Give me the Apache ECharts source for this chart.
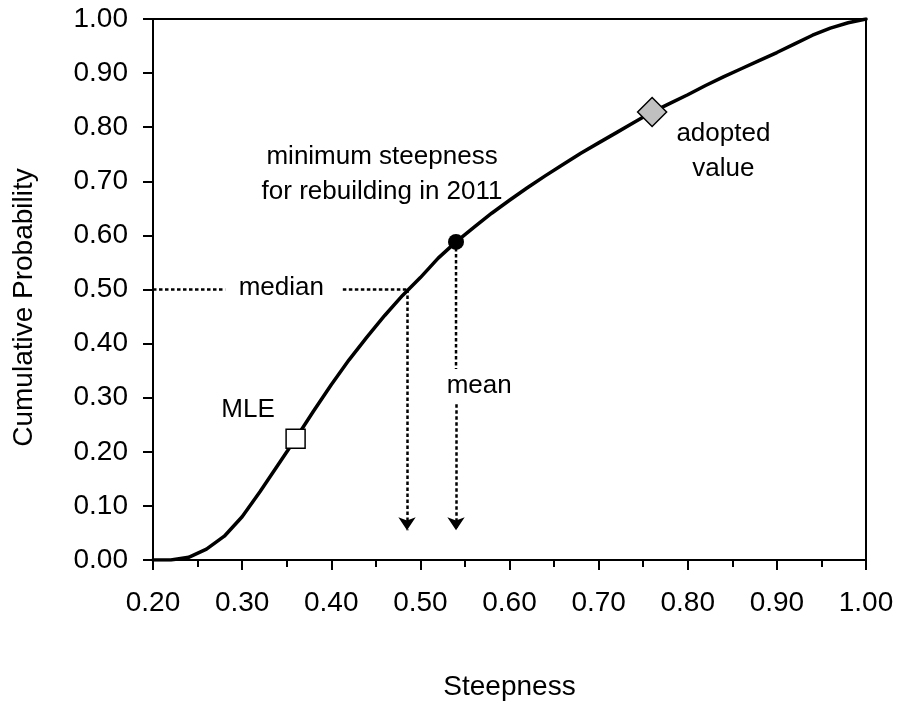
<!DOCTYPE html>
<html>
<head>
<meta charset="utf-8">
<script src="https://cdn.jsdelivr.net/npm/echarts@6/dist/echarts.min.js"></script>
<style>html,body{margin:0;padding:0;background:#fff;}#chart{width:899px;height:706px;}</style>
</head>
<body>
<div id="chart"></div>
<script>
// ---- data ----
const steepness = [0.20,0.22,0.24,0.26,0.28,0.30,0.32,0.34,0.36,0.38,0.40,0.42,0.44,0.46,0.48,0.50,0.52,0.54,0.56,0.58,0.60,0.62,0.64,0.66,0.68,0.70,0.72,0.74,0.76,0.78,0.80,0.82,0.84,0.86,0.88,0.90,0.92,0.94,0.96,0.98,1.00];
const cumProb   = [0.000,0.000,0.005,0.020,0.044,0.080,0.126,0.175,0.224,0.275,0.324,0.370,0.412,0.452,0.489,0.522,0.558,0.588,0.615,0.641,0.665,0.688,0.710,0.731,0.752,0.771,0.790,0.809,0.828,0.844,0.860,0.877,0.893,0.908,0.923,0.938,0.954,0.970,0.983,0.993,1.000];
const mlePoint = [0.36, 0.224];
const meanPoint = [0.54, 0.588];
const medianPoint = [0.485, 0.50];
const adoptedPoint = [0.76, 0.828];
const arrowTipY = 0.055;
const medianGap = [0.281, 0.413];   // horizontal gap around the "median" label
const meanGap = [0.353, 0.288];     // vertical gap around the "mean" label
const xTicks = [0.20,0.30,0.40,0.50,0.60,0.70,0.80,0.90,1.00];
const yTicks = [0.00,0.10,0.20,0.30,0.40,0.50,0.60,0.70,0.80,0.90,1.00];
const annotations = [
  {name: 'minimum steepness\nfor rebuilding in 2011', value: [0.457, 0.712]},
  {name: 'adopted\nvalue', value: [0.84, 0.755]},
  {name: 'median', value: [0.344, 0.504]},
  {name: 'MLE', value: [0.3066, 0.277]},
  {name: 'mean', value: [0.566, 0.322]}
];

const FONT = '"Liberation Sans", Arial, sans-serif';
const dotted = {color: '#000', width: 2.5, type: [3.5, 2.5], opacity: 1};

const chart = echarts.init(document.getElementById('chart'), null, {renderer: 'canvas'});
chart.setOption({
  animation: false,
  backgroundColor: '#fff',
  grid: {left: 153, right: 33, top: 19, bottom: 141, show: true, borderColor: '#000', borderWidth: 2, backgroundColor: 'transparent'},
  xAxis: {
    type: 'value', min: xTicks[0], max: xTicks[xTicks.length-1], interval: 0.1,
    name: 'Steepness', nameLocation: 'middle', nameGap: 113,
    nameTextStyle: {fontFamily: FONT, fontSize: 28, color: '#000'},
    axisLine: {show: true, onZero: false, lineStyle: {color: '#000', width: 2}},
    axisTick: {show: true, inside: false, length: 10, lineStyle: {color: '#000', width: 2}},
    minorTick: {show: true, splitNumber: 2, length: 7, lineStyle: {color: '#000', width: 2}},
    splitLine: {show: false}, minorSplitLine: {show: false},
    axisLabel: {margin: 29, fontFamily: FONT, fontSize: 28, color: '#000', formatter: v => v.toFixed(2)}
  },
  yAxis: {
    type: 'value', min: yTicks[0], max: yTicks[yTicks.length-1], interval: 0.1,
    name: 'Cumulative Probability', nameLocation: 'middle', nameGap: 115, nameRotate: 90,
    nameTextStyle: {fontFamily: FONT, fontSize: 28, color: '#000', padding: [0, 36, 0, 0]},
    axisLine: {show: true, onZero: false, lineStyle: {color: '#000', width: 2}},
    axisTick: {show: true, inside: false, length: 10, lineStyle: {color: '#000', width: 2}},
    splitLine: {show: false},
    axisLabel: {margin: 25, fontFamily: FONT, fontSize: 28, color: '#000', formatter: v => v.toFixed(2)}
  },
  series: [
    {
      type: 'line', name: 'guides', silent: true, z: 2,
      symbol: 'none', connectNulls: false,
      lineStyle: dotted,
      data: [
        [steepness[0], medianPoint[1]], [medianGap[0], medianPoint[1]], null,
        [medianGap[1], medianPoint[1]], [medianPoint[0], medianPoint[1]], null,
        [meanPoint[0], meanPoint[1]], [meanPoint[0], meanGap[0]]
      ],
      markLine: {
        silent: true, symbol: ['none', 'arrow'], symbolSize: [13, 13],
        label: {show: false}, lineStyle: dotted,
        itemStyle: {color: '#000', opacity: 1},
        emphasis: {disabled: true},
        data: [
          [{coord: [medianPoint[0], medianPoint[1]]}, {coord: [medianPoint[0], arrowTipY]}],
          [{coord: [meanPoint[0], meanGap[1]]}, {coord: [meanPoint[0], arrowTipY]}]
        ]
      }
    },
    {
      type: 'line', name: 'cdf', z: 3, symbol: 'none', smooth: false,
      lineStyle: {color: '#000', width: 3.5, join: 'round', cap: 'round', opacity: 1},
      data: steepness.map((s, i) => [s, cumProb[i]])
    },
    {
      type: 'scatter', z: 5, symbol: 'rect', symbolSize: 19,
      itemStyle: {color: '#fff', borderColor: '#000', borderWidth: 1.5, opacity: 1},
      emphasis: {disabled: true},
      data: [mlePoint]
    },
    {
      type: 'scatter', z: 5, symbol: 'circle', symbolSize: 16,
      itemStyle: {color: '#000', opacity: 1},
      emphasis: {disabled: true},
      data: [meanPoint]
    },
    {
      type: 'scatter', z: 5, symbol: 'diamond', symbolSize: 29,
      itemStyle: {color: '#c0c0c0', borderColor: '#000', borderWidth: 1.5, opacity: 1},
      emphasis: {disabled: true},
      data: [adoptedPoint]
    },
    {
      type: 'scatter', z: 6, silent: true, symbolSize: 1,
      itemStyle: {color: 'rgba(255,255,255,0)', opacity: 1},
      emphasis: {disabled: true},
      label: {show: true, position: 'inside', formatter: p => p.name, fontFamily: FONT, fontSize: 26, color: '#000', opacity: 1, textBorderWidth: 0, lineHeight: 35, align: 'center', verticalAlign: 'middle'},
      data: annotations
    }
  ]
});
</script>
</body>
</html>
